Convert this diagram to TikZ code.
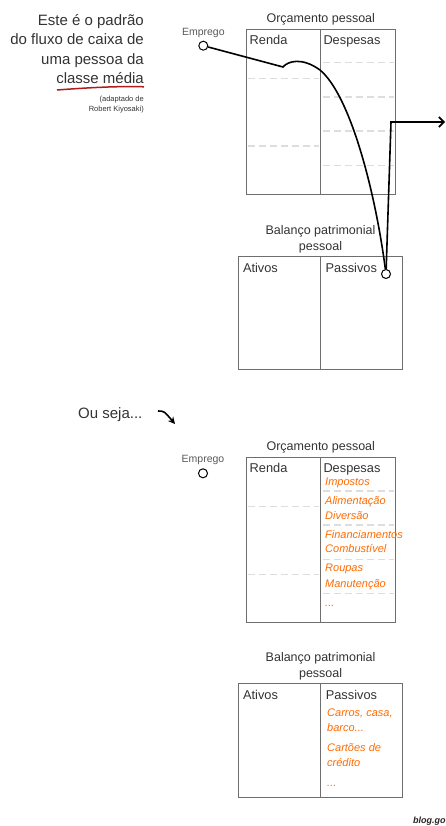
\documentclass[tikz,border=0pt]{standalone}
\usepackage{fontspec}
\setmainfont{Liberation Sans}
\usetikzlibrary{positioning,arrows.meta}
\definecolor{texto}{HTML}{333333}
\definecolor{borda}{HTML}{6E6E6E}
\definecolor{tracejado}{HTML}{DDDDDD}
\definecolor{laranja}{HTML}{FF6A00}
\definecolor{sublinhado}{HTML}{B01C1C}

\begin{document}
\begin{tikzpicture}[
        x=1pt,y=-1pt,
        every node/.style={inner sep=0pt,text=texto},
        orcbox/.style={draw=borda,line width=0.9pt,
          minimum width=149.7pt,minimum height=165pt},
        balbox/.style={draw=borda,line width=0.9pt,
          minimum width=164.5pt,minimum height=113.4pt},
        divisao/.style={draw=borda,line width=0.9pt},
        titulo/.style={font=\fontsize{12.5}{16}\selectfont,align=center},
        rotulo/.style={font=\fontsize{12.8}{15}\selectfont},
        item/.style={font=\fontsize{11}{14}\selectfont\itshape,text=laranja},
        linha/.style={draw=tracejado,line width=1.3pt,dash pattern=on 7pt off 4pt},
        ponto/.style={circle,draw=black,fill=white,line width=1pt,minimum size=9pt},
        emprego/.style={font=\fontsize{10.5}{12}\selectfont,text=black!65},
        fluxo/.style={line width=1.6pt},
      ]
      \useasboundingbox (0,0) rectangle (446,826);

      % texto da esquerda
      \node[anchor=north east,align=right,font=\fontsize{15}{19.3}\selectfont]
        (intro) at (144,14.4) {Este é o padrão\\do fluxo de caixa de\\uma pessoa da\\classe média};
      \draw[sublinhado,line width=1.5pt]
        (57,90) .. controls (90,87.5) and (120,86) .. (144,86.8);
      \node[anchor=north east,align=right,font=\fontsize{7.5}{10}\selectfont]
        (fonte) at (144,96.2) {(adaptado de\\Robert Kiyosaki)};

      % quadros
      \node[orcbox] (orc1) at (320.8,111.7) {};
      \node[balbox] (bal1) at (320.5,313.2) {};
      \node[orcbox] (orc2) at (320.8,539.8) {};
      \node[balbox] (bal2) at (320.6,740.4) {};

      \foreach \b in {orc1,orc2}{
        \draw[divisao] (\b.north) -- (\b.south);
        \foreach \d in {49.5,117.4}
          \draw[linha] ([shift={(2,\d)}]\b.north west) -- ([shift={(-2,\d)}]\b.north);
        \foreach \d in {34,68.2,102.4,136.6}
          \draw[linha] ([shift={(2,\d)}]\b.north) -- ([shift={(-2,\d)}]\b.north east);
        \node[titulo,above=3.5pt of \b] (tit-\b) {Orçamento pessoal};
        \node[rotulo,below right=6.5pt and 4pt of \b.north west] (renda-\b) {Renda};
        \node[rotulo,below right=6.5pt and 2.5pt of \b.north] (desp-\b) {Despesas};
      }
      \foreach \b in {bal1,bal2}{
        \draw[divisao] (\b.north) -- (\b.south);
        \node[titulo,above=2.5pt of \b] (tit-\b) {Balanço patrimonial\\pessoal};
        \node[rotulo,below right=6.5pt and 5pt of \b.north west] (ativ-\b) {Ativos};
        \node[rotulo,below right=6.5pt and 5pt of \b.north] (pass-\b) {Passivos};
      }

      % fluxo de caixa
      \node[ponto] (emp1) at (203.3,45.7) {};
      \node[emprego,above=3pt of emp1] (lemp1) {Emprego};
      \node[ponto] (pas1) at (386,274) {};
      \coordinate (bump) at (283,67);
      \coordinate (canto) at (391,122);
      \coordinate (saida) at (445,122);
      \draw[fluxo] (emp1) -- (bump)
        .. controls (288,61) and (302,57) .. (320,70)
        .. controls (350,95) and (375,190) .. (pas1);
      \draw[fluxo,-{Straight Barb[length=5pt,width=10pt]}] (pas1) -- (canto) -- (saida);

      % ou seja
      \node[anchor=base west,font=\fontsize{15}{18}\selectfont] (ouseja) at (78,418.5) {Ou seja...};
      \coordinate (seta1) at (158,411);
      \coordinate (seta2) at (175,424);
      \draw[line width=1.6pt,-{Stealth[length=7pt,width=7pt]}]
        (seta1) .. controls (164,411) .. (seta2);

      \node[ponto] (emp2) at (203,473.3) {};
      \node[emprego,above=3.5pt of emp2] (lemp2) {Emprego};

      % despesas e passivos
      \foreach \y/\t in {485.8/Impostos,504.5/Alimentação,519.5/Diversão,
          538.5/Financiamentos,552.8/Combustível,571.8/Roupas,587.5/Manutenção,606/{...}}
        \node[item,anchor=base west] at (325,\y) {\t};
      \foreach \y/\t in {716.2/{Carros, casa,},731.8/{barco...},751.8/Cartões de,766.8/crédito,786/{...}}
        \node[item,anchor=base west] at (327,\y) {\t};

      \node[anchor=base west,font=\fontsize{9}{11}\selectfont\bfseries\itshape,text=black!85]
        (blog) at (413,823) {blog.go};
    \end{tikzpicture}
\end{document}
